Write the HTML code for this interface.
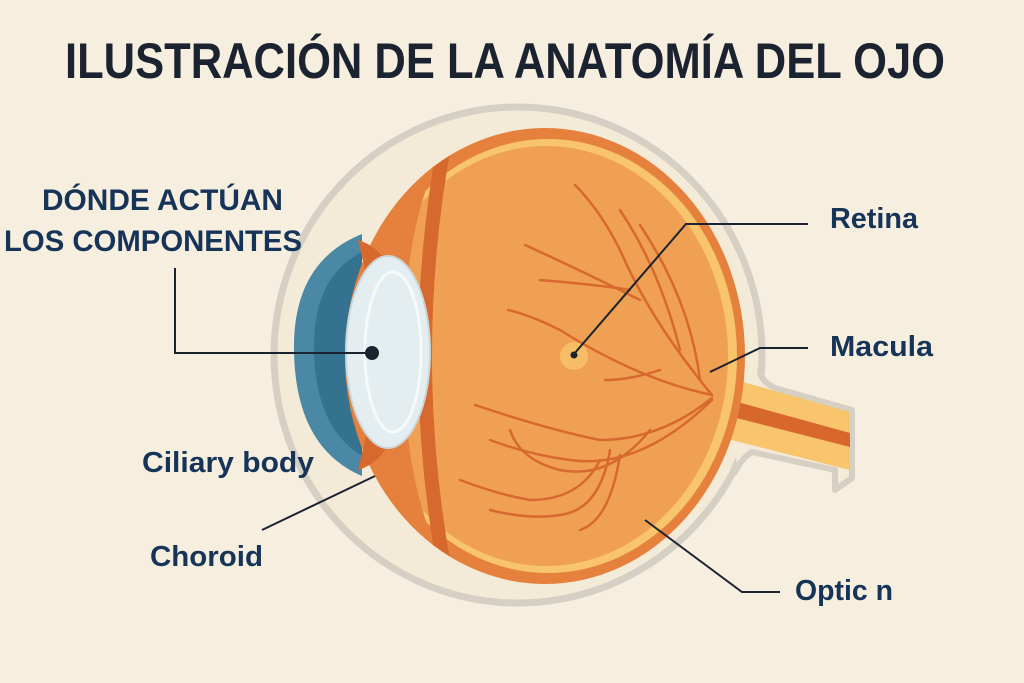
<!DOCTYPE html>
<html><head><meta charset="utf-8"><style>
html,body{margin:0;padding:0;background:#f6efdf;}
svg{display:block}
text{font-family:"Liberation Sans Narrow","Liberation Sans",sans-serif;font-weight:bold;}
</style></head><body>
<svg width="1024" height="683" viewBox="0 0 1024 683" xmlns="http://www.w3.org/2000/svg">
<defs><clipPath id="ball"><ellipse cx="545" cy="356" rx="200" ry="228"/></clipPath></defs>
<rect width="1024" height="683" fill="#f6efdf"/>
<text x="65" y="78" font-size="50" fill="#1c2330" textLength="880" lengthAdjust="spacingAndGlyphs">ILUSTRACIÓN DE LA ANATOMÍA DEL OJO</text>

<ellipse cx="518" cy="355" rx="244" ry="248" fill="#f3ead8" stroke="#d6d0c4" stroke-width="7"/>
<path d="M720,362 L760,372 Q762,382 775,388 L852,410 L852,478 L835,490 L835,470 L752,452 Q742,458 735,472 Z" fill="#f3ead8" stroke="#d6d0c4" stroke-width="6" stroke-linejoin="round"/>
<ellipse cx="518" cy="355" rx="240" ry="244" fill="#f3ead8"/>
<path d="M700,370 L850,412 L850,470 L700,432 Z" fill="#f8c46c"/>
<path d="M705,393 L850,433 L850,447 L705,410 Z" fill="#d8672d"/>
<!-- cornea -->
<path d="M362,234 Q292,262 294,352 Q296,448 362,476 Z" fill="#4a88a6"/>
<path d="M362,252 Q312,277 314,352 Q316,428 362,456 Z" fill="#34728f"/>
<!-- eyeball -->
<ellipse cx="545" cy="356" rx="200" ry="228" fill="#e5803d"/>
<ellipse cx="548" cy="356" rx="189" ry="217" fill="#f8c46c"/>
<ellipse cx="546" cy="356" rx="182" ry="210" fill="#f0a053"/>
<g clip-path="url(#ball)">
<path d="M300,100 L470,100 Q400,200 405,356 Q400,510 470,610 L300,610 Z" fill="#e5803d"/>
<path d="M445,140 Q405,356 445,572" fill="none" stroke="#d8692e" stroke-width="14"/>
</g>
<!-- vessels -->
<g fill="none" stroke="#d8692e" stroke-width="2.5" stroke-linecap="round">
<path d="M712,395 Q650,320 620,250 Q600,210 575,185"/>
<path d="M680,350 Q660,270 620,210"/>
<path d="M700,380 Q690,300 640,225"/>
<path d="M640,300 Q580,270 525,245"/>
<path d="M630,290 Q600,285 540,280"/>
<path d="M712,395 Q640,380 560,330 Q530,315 508,310"/>
<path d="M660,370 Q630,380 605,380"/>
<path d="M712,398 Q660,440 600,440 Q550,430 475,405"/>
<path d="M712,400 Q640,470 570,460 Q530,455 490,440"/>
<path d="M650,430 Q610,480 560,470 Q520,460 510,430"/>
<path d="M600,460 Q580,500 530,500 Q500,495 460,480"/>
<path d="M610,450 Q600,510 560,515 Q530,520 490,510"/>
<path d="M620,455 Q610,520 580,530"/>
</g>
<circle cx="574" cy="356" r="14" fill="#f8c46c" opacity="0.8"/>
<path d="M358,240 Q390,250 395,290 L372,300 Z" fill="#d8692e"/>
<path d="M358,470 Q390,460 395,420 L372,410 Z" fill="#d8692e"/>
<ellipse cx="388" cy="352" rx="42" ry="96" fill="#e4eef0" stroke="#c9d8dc" stroke-width="2"/>
<ellipse cx="393" cy="352" rx="28" ry="80" fill="none" stroke="#f6fafb" stroke-width="3"/>

<g fill="none" stroke="#1c2330" stroke-width="2">
<path d="M175,268 L175,353 L372,353"/>
<path d="M808,224 L686,224 L574,354"/>
<path d="M808,348 L760,348 L710,372"/>
<path d="M262,530 L375,476"/>
<path d="M780,592 L742,592 L645,520"/>
</g>
<circle cx="372" cy="353" r="7" fill="#1c2330"/>
<circle cx="574" cy="355" r="3.5" fill="#1c2330"/>

<g fill="#163358">
<text x="42" y="210" font-size="30" textLength="241" lengthAdjust="spacingAndGlyphs">DÓNDE ACTÚAN</text>
<text x="4" y="251" font-size="30" textLength="298" lengthAdjust="spacingAndGlyphs">LOS COMPONENTES</text>
<text x="142" y="472" font-size="29" textLength="172" lengthAdjust="spacingAndGlyphs">Ciliary body</text>
<text x="150" y="566" font-size="29" textLength="113" lengthAdjust="spacingAndGlyphs">Choroid</text>
<text x="830" y="228" font-size="29" textLength="88" lengthAdjust="spacingAndGlyphs">Retina</text>
<text x="830" y="356" font-size="29" textLength="103" lengthAdjust="spacingAndGlyphs">Macula</text>
<text x="795" y="600" font-size="29" textLength="98" lengthAdjust="spacingAndGlyphs">Optic n</text>
</g>
</svg>
</body></html>
